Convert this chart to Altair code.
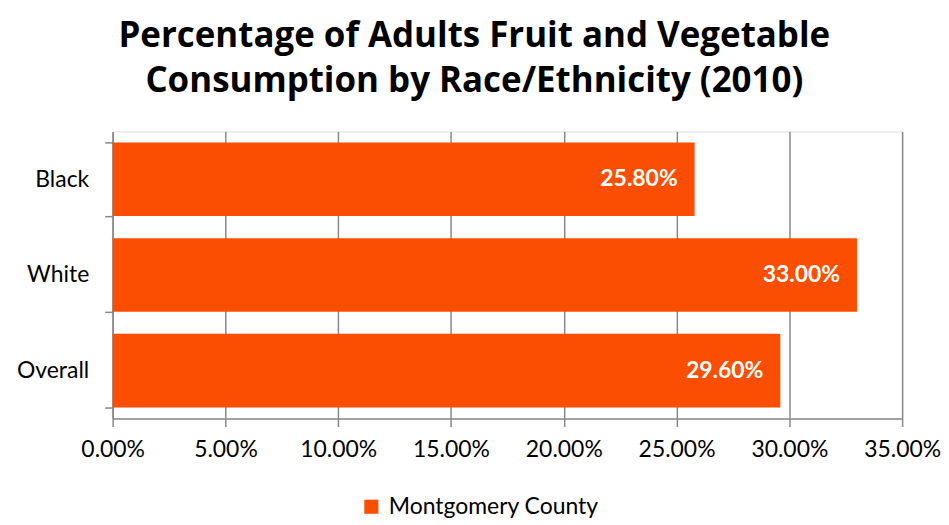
import altair as alt
import pandas as pd

categories = ["Black", "White", "Overall"]
values = [0.258, 0.330, 0.296]
labels = ["25.80%", "33.00%", "29.60%"]
series = ["Montgomery County"] * 3
x_ticks = [0, 0.05, 0.10, 0.15, 0.20, 0.25, 0.30, 0.35]

df = pd.DataFrame({"cat": categories, "val": values, "lab": labels, "series": series})

FONT = "Lato"
TFONT = "Open Sans"
ORANGE = "#FC4E00"
GRID = "#888888"

base = alt.Chart(df).encode(
    y=alt.Y("cat:N", sort=categories, title=None,
            scale=alt.Scale(paddingInner=0.23, paddingOuter=0.115),
            axis=alt.Axis(tickBand="extent", domainColor=GRID, tickColor=GRID,
                          tickSize=8, labelFontSize=23, labelFont=FONT, labelColor="#000",
                          labelPadding=16, minExtent=105, maxExtent=105, grid=False,
                          domainWidth=1.5, tickWidth=1.5)),
)

bars = base.mark_bar(color=ORANGE).encode(
    x=alt.X("val:Q", title=None,
            scale=alt.Scale(domain=[0, 0.35], nice=False),
            axis=alt.Axis(values=x_ticks, format=".2%", grid=True, gridColor=GRID,
                          gridWidth=1.5, domainColor=GRID, tickColor=GRID, tickSize=8,
                          labelFontSize=23, labelFont=FONT, labelColor="#000",
                          labelFlush=False, labelPadding=12, domainWidth=1.5,
                          tickWidth=1.5)),
    color=alt.Color("series:N", title=None,
                    scale=alt.Scale(range=[ORANGE]),
                    legend=alt.Legend(orient="none", legendX=248, legendY=365,
                                      symbolType="square", symbolSize=200,
                                      symbolStrokeWidth=0, labelFontSize=23,
                                      labelFont=FONT, labelColor="#000",
                                      labelLimit=0, labelOffset=6,
                                      direction="horizontal")),
)

text = base.mark_text(align="right", baseline="middle", dx=-17, color="white",
                      fontSize=23, fontWeight="bold", font=FONT).encode(
    x="val:Q", text="lab:N"
)

chart = (bars + text).properties(
    width=792, height=288,
    padding={"left": 0, "top": 10, "right": 0, "bottom": 5},
    title=alt.TitleParams(
        text=["Percentage of Adults Fruit and Vegetable",
              "Consumption by Race/Ethnicity (2010)"],
        fontSize=35, font=TFONT, fontWeight="bold", color="#000",
        anchor="middle", frame="bounds", lineHeight=45, offset=22),
).configure_view(stroke=None).configure(background="white")

chart.save("out.html", embed_options={"renderer": "svg", "actions": False})
